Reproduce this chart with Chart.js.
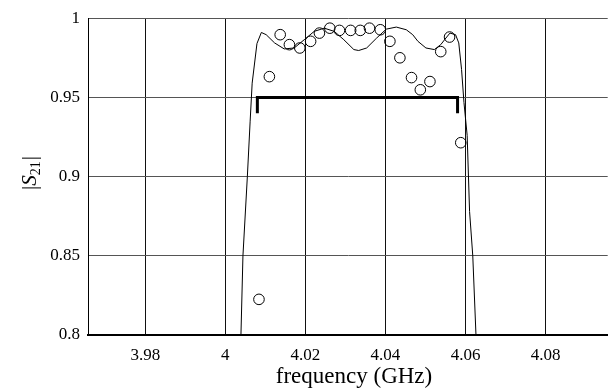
<!DOCTYPE html>
<html>
<head>
<meta charset="utf-8">
<script src="https://cdn.jsdelivr.net/npm/chart.js@4.4.0/dist/chart.umd.min.js"></script>
<style>
  html, body { margin: 0; padding: 0; background: #fff; overflow: hidden; }
</style>
</head>
<body>
<canvas id="myChart" width="614" height="392"></canvas>
<script>
// simulated |S21| (solid line)
var simFreq = [4.0039, 4.0044, 4.0055, 4.0062, 4.0067, 4.0079, 4.0090, 4.0102, 4.0123, 4.0147,
  4.0172, 4.0197, 4.0222, 4.0247, 4.0272, 4.0296, 4.0321, 4.0333, 4.0353, 4.0378,
  4.0402, 4.0427, 4.0452, 4.0468, 4.0481, 4.0501, 4.0522, 4.0538, 4.0551, 4.0561,
  4.0575, 4.0583, 4.0590, 4.0596, 4.0604, 4.0610, 4.0618, 4.0626];
var simS21 = [0.800, 0.850, 0.900, 0.935, 0.959, 0.984, 0.991, 0.9896, 0.9844, 0.9806,
  0.9812, 0.9864, 0.9917, 0.9937, 0.9917, 0.9864, 0.9802, 0.9796, 0.9812, 0.9875,
  0.9931, 0.9944, 0.9927, 0.9896, 0.9854, 0.9812, 0.9802, 0.9833, 0.9875, 0.9906,
  0.9896, 0.9844, 0.9677, 0.9468, 0.926, 0.878, 0.850, 0.800];

// measured |S21| (circles)
var measFreq = [4.0084, 4.0110, 4.0137, 4.0160, 4.0186, 4.0213, 4.0235, 4.0261, 4.0285, 4.0313,
  4.0337, 4.0360, 4.0387, 4.0411, 4.0436, 4.0465, 4.0487, 4.0511, 4.0538, 4.0560, 4.0588];
var measS21 = [0.8225, 0.9631, 0.9896, 0.9833, 0.9812, 0.9854, 0.9906, 0.9937, 0.9923, 0.9923,
  0.9923, 0.9937, 0.9927, 0.9854, 0.9750, 0.9625, 0.9548, 0.9600, 0.9789, 0.9881, 0.9214];

// passband bracket
var bandFreq = [4.008, 4.008, 4.058, 4.058];
var bandS21 = [0.940, 0.950, 0.950, 0.940];

var xTicks = [3.98, 4, 4.02, 4.04, 4.06, 4.08];
var yTicks = [0.8, 0.85, 0.9, 0.95, 1];

function pts(xs, ys) {
  var out = [];
  for (var i = 0; i < xs.length; i++) out.push({x: xs[i], y: ys[i]});
  return out;
}

var serif = "'Liberation Serif', 'Times New Roman', serif";

var titles = {
  id: 'titles',
  afterDraw: function(chart) {
    var ctx = chart.ctx;
    ctx.save();
    ctx.fillStyle = '#000';
    // x title
    ctx.font = '23px ' + serif;
    ctx.textAlign = 'center';
    ctx.textBaseline = 'middle';
    ctx.fillText('frequency (GHz)', 354, 377);
    // y title |S21|
    ctx.translate(29, 173);
    ctx.rotate(-Math.PI / 2);
    var f1 = '21px ' + serif, fi = 'italic 21px ' + serif, fs = '14px ' + serif;
    ctx.font = f1; var wBar = ctx.measureText('|').width;
    ctx.font = fi; var wS = ctx.measureText('S').width;
    ctx.font = fs; var wSub = ctx.measureText('21').width;
    var total = wBar * 2 + wS + wSub + 1;
    var x = -total / 2;
    ctx.textAlign = 'left';
    ctx.textBaseline = 'alphabetic';
    var base = 7;
    ctx.font = f1; ctx.fillText('|', x, base); x += wBar;
    ctx.font = fi; ctx.fillText('S', x, base); x += wS;
    ctx.font = fs; ctx.fillText('21', x, base + 4); x += wSub + 1;
    ctx.font = f1; ctx.fillText('|', x, base);
    ctx.restore();
  }
};

var ctx = document.getElementById('myChart').getContext('2d');
var myChart = new Chart(ctx, {
  type: 'scatter',
  data: {
    datasets: [{
      label: 'bracket',
      data: pts(bandFreq, bandS21),
      showLine: true,
      borderColor: '#000',
      borderWidth: 3,
      borderCapStyle: 'butt',
      borderJoinStyle: 'miter',
      pointRadius: 0,
      fill: false
    }, {
      label: 'simulated',
      data: pts(simFreq, simS21),
      showLine: true,
      borderColor: '#000',
      borderWidth: 1,
      tension: 0,
      pointRadius: 0,
      fill: false
    }, {
      label: 'measured',
      data: pts(measFreq, measS21),
      showLine: false,
      pointStyle: 'circle',
      pointRadius: 5.3,
      pointBorderWidth: 1,
      pointBorderColor: '#000',
      pointBackgroundColor: 'rgba(255,255,255,0)'
    }]
  },
  options: {
    responsive: false,
    animation: false,
    events: [],
    layout: { padding: { top: 15, left: 0, right: 0, bottom: 0 } },
    plugins: { legend: { display: false }, tooltip: { enabled: false } },
    scales: {
      x: {
        type: 'linear',
        min: 3.9657,
        max: 4.0955,
        afterFit: function(s) { s.height = 57; },
        afterBuildTicks: function(s) { s.ticks = xTicks.map(function(v) { return {value: v}; }); },
        grid: { color: '#111', lineWidth: 1, drawTicks: false },
        border: { color: '#000', width: 2 },
        ticks: {
          padding: 10,
          color: '#000',
          font: { family: serif, size: 17 },
          maxRotation: 0,
          callback: function(v) { return String(v); }
        }
      },
      y: {
        min: 0.8,
        max: 1,
        afterFit: function(s) { s.width = 88; },
        afterBuildTicks: function(s) { s.ticks = yTicks.map(function(v) { return {value: v}; }); },
        grid: { color: '#555', lineWidth: 1, drawTicks: false },
        border: { color: '#000', width: 1 },
        ticks: {
          padding: 8,
          color: '#000',
          font: { family: serif, size: 17 },
          callback: function(v) { return String(v); }
        }
      }
    }
  },
  plugins: [titles]
});
</script>
</body>
</html>
